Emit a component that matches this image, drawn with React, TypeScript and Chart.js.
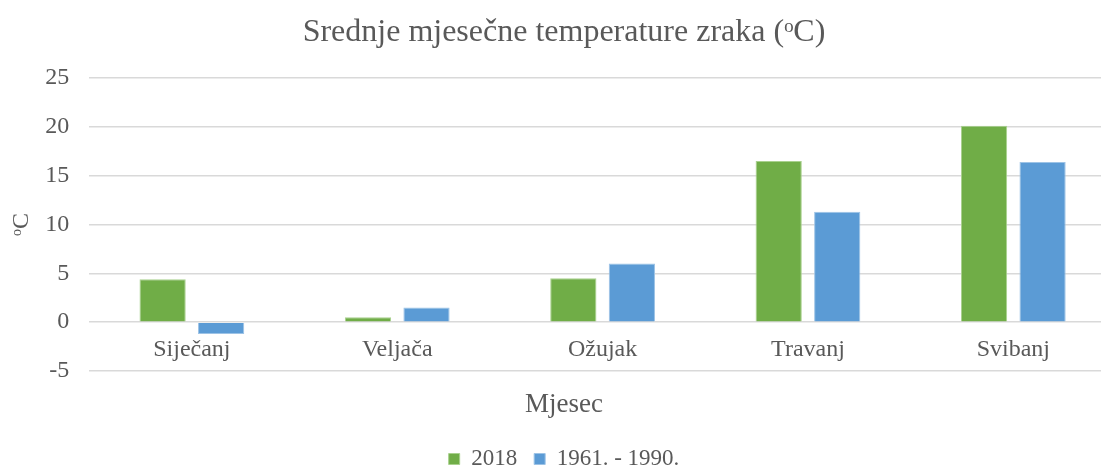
import React, { useEffect, useRef } from "react";
import { Chart, registerables } from "chart.js";

Chart.register(...registerables);

const months = ["Siječanj", "Veljača", "Ožujak", "Travanj", "Svibanj"];
const series2018 = [4.4, 0.5, 4.5, 16.5, 20.1];
const series1961 = [-1.2, 1.5, 6.0, 11.3, 16.4];
const seriesLabels = ["2018", "1961. - 1990."];
const yTicks = { min: -5, max: 25, step: 5 };

const FONT = "'Liberation Serif', 'Times New Roman', serif";
const GREY = "#595959";

export default function App() {
  const ref = useRef<HTMLCanvasElement | null>(null);
  useEffect(() => {
    if (!ref.current) return;
    const chart = new Chart(ref.current, {
      type: "bar",
      data: {
        labels: months,
        datasets: [
          {
            label: seriesLabels[0],
            data: series2018,
            backgroundColor: "#70ad47",
            borderColor: "#a9d18e",
            borderWidth: 1,
            categoryPercentage: 0.57,
            barPercentage: 0.79,
          },
          {
            label: seriesLabels[1],
            data: series1961,
            backgroundColor: "#5b9bd5",
            borderColor: "#9dc3e6",
            borderWidth: 1,
            categoryPercentage: 0.57,
            barPercentage: 0.79,
          },
        ],
      },
      options: {
        animation: false,
        responsive: false,
        maintainAspectRatio: false,
        layout: { padding: { left: 12, right: 0, top: 8, bottom: -10.5 } },
        plugins: {
          title: {
            display: true,
            text: "Srednje mjesečne temperature zraka (ᵒC)",
            color: GREY,
            font: { family: FONT, size: 32, weight: "normal" },
            padding: { top: 5, bottom: 26.6 },
          },
          legend: {
            position: "bottom",
            title: {
              display: true,
              text: "Mjesec",
              color: GREY,
              font: { family: FONT, size: 27 },
              padding: { top: 7.3, bottom: 6.6 },
            },
            labels: {
              color: GREY,
              font: { family: FONT, size: 23 },
              boxWidth: 11,
              boxHeight: 11,
              padding: 17,
            },
          },
          tooltip: { enabled: false },
        },
        scales: {
          x: {
            grid: { display: false, drawTicks: false },
            border: { display: false },
            ticks: {
              color: GREY,
              font: { family: FONT, size: 24 },
              mirror: true,
              padding: 6.6,
            },
          },
          y: {
            min: yTicks.min,
            max: yTicks.max,
            grid: { color: "#d9d9d9", lineWidth: 1.5, drawTicks: false },
            border: { display: false },
            ticks: {
              stepSize: yTicks.step,
              color: GREY,
              font: { family: FONT, size: 24 },
              padding: 20,
            },
            title: {
              display: true,
              text: "ᵒC",
              color: GREY,
              font: { family: FONT, size: 24, lineHeight: 0.8 },
              padding: { top: 0, bottom: -6 },
            },
          },
        },
      },
    });
    return () => chart.destroy();
  }, []);
  return (
    <div style={{ position: "fixed", left: 0, top: 0, width: 1116, height: 470, background: "#fff" }}>
      <canvas ref={ref} width={1116} height={470} style={{ display: "block" }} />
    </div>
  );
}
